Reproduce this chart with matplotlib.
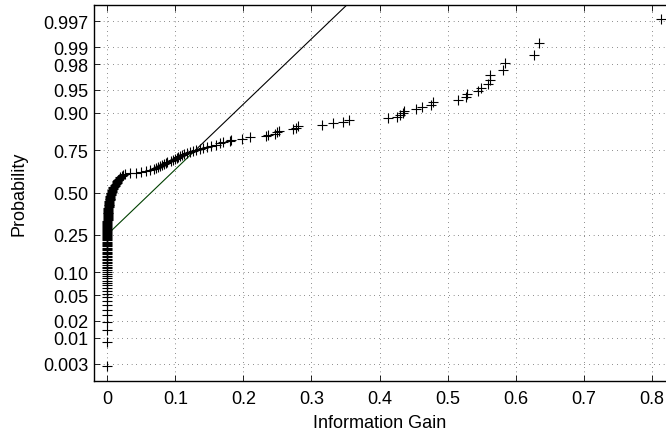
import numpy as np
import matplotlib
matplotlib.use("Agg")
import matplotlib.pyplot as plt
from statistics import NormalDist

# information gain, sorted; many features have exactly zero gain
n_zero = 58
gain_nonzero = [
    0.0001, 0.0002, 0.0003, 0.0004, 0.0005, 0.0006, 0.0007, 0.0008, 0.0009, 0.0010,
    0.0011, 0.0012, 0.0013, 0.0014, 0.0015, 0.0016, 0.0018, 0.0019, 0.0020, 0.0022,
    0.0024, 0.0026, 0.0028, 0.0030, 0.0033, 0.0035, 0.0038, 0.0040, 0.0042, 0.0045,
    0.0048, 0.0050, 0.0055,
    0.006, 0.0065, 0.007, 0.0075, 0.008, 0.0085, 0.009, 0.010, 0.011, 0.012,
    0.013, 0.0135, 0.014, 0.0145, 0.015, 0.016, 0.017, 0.018, 0.019, 0.021,
    0.023, 0.026, 0.033, 0.042,
    0.050, 0.057, 0.063, 0.068, 0.072, 0.075, 0.077, 0.080, 0.083, 0.086,
    0.088, 0.093, 0.096, 0.099, 0.102, 0.104, 0.107, 0.110, 0.113, 0.117,
    0.121, 0.126, 0.130, 0.136, 0.141, 0.146, 0.152, 0.160, 0.165, 0.170,
    0.180, 0.182,
    0.198, 0.209, 0.233, 0.236, 0.246, 0.249, 0.252, 0.273, 0.277, 0.280,
    0.316, 0.332, 0.347, 0.355, 0.413, 0.425, 0.430, 0.434, 0.436, 0.453,
    0.462, 0.476, 0.479, 0.515, 0.527, 0.529, 0.545, 0.549, 0.560, 0.562,
    0.563, 0.581, 0.584, 0.627, 0.634, 0.813,
]
prob_ticks = [0.003, 0.01, 0.02, 0.05, 0.10, 0.25, 0.50, 0.75, 0.90, 0.95, 0.98, 0.99, 0.997]
prob_labels = ["0.003", "0.01", "0.02", "0.05", "0.10", "0.25", "0.50",
               "0.75", "0.90", "0.95", "0.98", "0.99", "0.997"]
x_ticks = [0, 0.1, 0.2, 0.3, 0.4, 0.5, 0.6, 0.7, 0.8]
x_labels = ["0", "0.1", "0.2", "0.3", "0.4", "0.5", "0.6", "0.7", "0.8"]

plt.rcParams['font.family'] = ['Liberation Sans', 'DejaVu Sans']

data = np.sort(np.array([0.0] * n_zero + gain_nonzero))
n = len(data)
nd = NormalDist()
z = np.array([nd.inv_cdf((i - 0.5) / n) for i in range(1, n + 1)])

# reference line through the quartiles (normplot style)
q1, q3 = np.percentile(data, [25, 75], method="hazen")
z1, z3 = nd.inv_cdf(0.25), nd.inv_cdf(0.75)
slope = (z3 - z1) / (q3 - q1)

fig = plt.figure(figsize=(6.66, 4.31), dpi=100)
ax = fig.add_axes([0.1407, 0.1144, 0.8593, 0.8716])

ax.plot([q1, q3], [z1, z3], color="#004000", lw=0.8, zorder=2)
ax.plot([q3, data.max()], [z3, z3 + slope * (data.max() - q3)], color="black", lw=0.8, zorder=2)
ax.plot(data, z, linestyle="none", marker="+", color="black", markersize=7.5, mew=0.8, zorder=3)

ax.set_xlim(-0.02, 0.821)
ax.set_ylim(-3.016, 3.005)
ax.set_xticks(x_ticks)
ax.set_xticklabels(x_labels)
ax.set_yticks([nd.inv_cdf(p) for p in prob_ticks])
ax.set_yticklabels(prob_labels)
ax.tick_params(direction="in", top=True, right=False, length=4, width=0.6,
               labelsize=13, colors="black")
ax.tick_params(axis="x", pad=7)
ax.tick_params(axis="y", pad=4)
ax.grid(True, color="black", linestyle=(0, (0.6, 5)), linewidth=0.6)
ax.spines["right"].set_visible(False)
for s in ["left", "top", "bottom"]:
    ax.spines[s].set_linewidth(1.0)

ax.set_xlabel("Information Gain", fontsize=13, labelpad=5)
ax.set_ylabel("Probability", fontsize=13, labelpad=11)

fig.savefig("out.png", dpi=100)
